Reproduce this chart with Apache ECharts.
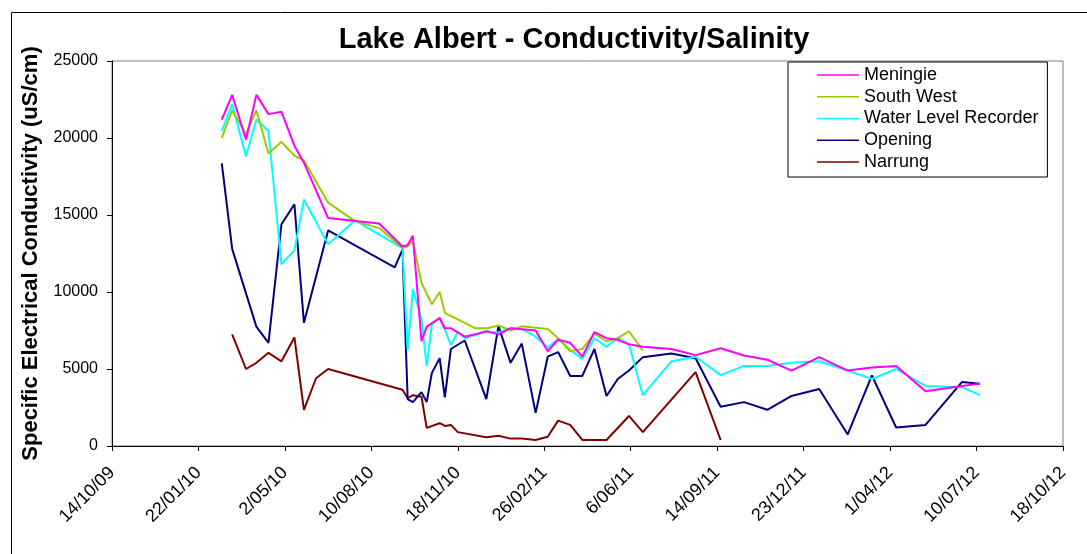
<!DOCTYPE html>
<html>
<head>
<meta charset="utf-8">
<script src="https://cdn.jsdelivr.net/npm/echarts@6/dist/echarts.min.js"></script>
<style>
html,body{margin:0;padding:0;background:#fff;}
#chart{width:1087px;height:554px;}
</style>
</head>
<body>
<div id="chart"></div>
<script>
// ---- data ----
const axisStart = '2009-10-14';
const axisDays = 1100;
const tickDays = 100;

const seriesNames = ['Meningie', 'South West', 'Water Level Recorder', 'Opening', 'Narrung'];
const seriesColors = ['#FF00FF', '#99CC00', '#00FFFF', '#000080', '#800000'];

const meningieDates = ['2010-02-18','2010-03-02','2010-03-18','2010-03-30','2010-04-13','2010-04-28','2010-05-13','2010-05-24','2010-06-21','2010-08-19','2010-09-15','2010-09-21','2010-09-27','2010-10-07','2010-10-13','2010-10-28','2010-11-03','2010-11-10','2010-11-26','2010-12-08','2010-12-21','2011-01-04','2011-01-18','2011-02-16','2011-03-02','2011-03-14','2011-03-28','2011-04-11','2011-04-25','2011-05-09','2011-05-22','2011-06-04','2011-06-20','2011-07-23','2011-08-20','2011-09-18','2011-10-15','2011-11-11','2011-12-09','2012-01-10','2012-02-12','2012-03-11','2012-04-08','2012-05-12','2012-06-23','2012-07-14'];
const meningieVals = [21200,22800,19900,22800,21550,21700,19500,18400,14800,14450,12950,13050,13650,6800,7750,8300,7650,7650,7100,7250,7450,7250,7650,7500,6150,6900,6700,5800,7400,7000,6900,6600,6450,6300,5900,6350,5880,5600,4900,5770,4900,5100,5200,3550,3900,4050];

const southWestDates = ['2010-02-18','2010-03-02','2010-03-18','2010-03-30','2010-04-13','2010-04-28','2010-05-13','2010-05-24','2010-06-21','2010-07-22','2010-08-19','2010-09-15','2010-09-21','2010-09-27','2010-10-07','2010-10-19','2010-10-28','2010-11-03','2010-11-15','2010-12-08','2010-12-22','2011-01-04','2011-01-18','2011-01-31','2011-03-02','2011-03-14','2011-03-28','2011-04-11','2011-04-25','2011-05-09','2011-05-22','2011-06-04','2011-06-20'];
const southWestVals = [20000,21800,20250,21800,19000,19750,18850,18550,15800,14600,14150,12850,12950,13300,10600,9200,10000,8650,8300,7650,7650,7830,7500,7770,7600,7000,6150,6300,7300,6800,7000,7450,6200];

const wlrDates = ['2010-02-18','2010-03-02','2010-03-18','2010-03-30','2010-04-13','2010-04-28','2010-05-13','2010-05-24','2010-06-21','2010-07-22','2010-09-15','2010-09-21','2010-09-27','2010-10-07','2010-10-13','2010-10-19','2010-10-28','2010-11-03','2010-11-10','2010-11-18','2010-11-26','2010-12-22','2011-01-04','2011-01-18','2011-01-31','2011-02-16','2011-03-02','2011-03-14','2011-03-28','2011-04-11','2011-04-25','2011-05-09','2011-05-22','2011-06-04','2011-06-20','2011-07-23','2011-08-20','2011-09-18','2011-10-15','2011-11-11','2011-12-09','2012-01-10','2012-02-12','2012-03-11','2012-04-08','2012-05-12','2012-06-23','2012-07-14'];
const wlrVals = [20450,22200,18800,21200,20450,11800,12700,16000,13100,14650,12850,6200,10200,8250,5200,7900,8350,7550,6550,7400,7000,7450,7350,7650,7600,7100,6400,6950,6250,5650,7000,6450,7000,6600,3300,5500,5800,4600,5200,5200,5400,5500,4900,4350,5000,3900,3820,3300];

const openingDates = ['2010-02-18','2010-03-02','2010-03-30','2010-04-13','2010-04-28','2010-05-13','2010-05-24','2010-06-21','2010-09-06','2010-09-15','2010-09-21','2010-09-27','2010-10-07','2010-10-13','2010-10-19','2010-10-28','2010-11-03','2010-11-10','2010-11-26','2010-12-21','2011-01-04','2011-01-18','2011-01-31','2011-02-16','2011-03-02','2011-03-14','2011-03-28','2011-04-11','2011-04-25','2011-05-09','2011-05-22','2011-06-04','2011-06-20','2011-07-23','2011-08-20','2011-09-18','2011-10-15','2011-11-11','2011-12-09','2012-01-10','2012-02-12','2012-03-11','2012-04-08','2012-05-12','2012-06-23','2012-07-14'];
const openingVals = [18350,12800,7750,6700,14400,15700,8000,14000,11600,12750,3050,2850,3500,2850,4750,5700,3150,6300,6850,3050,7800,5400,6650,2150,5800,6100,4550,4550,6300,3250,4350,4900,5770,6000,5700,2550,2850,2350,3250,3700,750,4580,1200,1370,4150,4050];

const narrungDates = ['2010-03-02','2010-03-18','2010-03-30','2010-04-13','2010-04-28','2010-05-13','2010-05-24','2010-06-07','2010-06-21','2010-09-15','2010-09-21','2010-09-27','2010-10-07','2010-10-13','2010-10-28','2010-11-03','2010-11-10','2010-11-18','2010-12-21','2011-01-04','2011-01-18','2011-01-31','2011-02-16','2011-03-02','2011-03-14','2011-03-28','2011-04-11','2011-05-09','2011-06-04','2011-06-20','2011-08-20','2011-09-18'];
const narrungVals = [7250,5000,5400,6050,5500,7050,2350,4400,5000,3650,3100,3300,3200,1180,1480,1300,1370,900,570,670,480,480,390,600,1650,1370,390,390,1950,900,4800,390];

const yMin = 0, yMax = 25000, yInterval = 5000;

// ---- build ----
const DAY = 86400000;
const baseMs = Date.parse(axisStart + 'T00:00:00Z');
function toDay(s) { return (Date.parse(s + 'T00:00:00Z') - baseMs) / DAY; }
function pairs(dates, vals) { return dates.map((d, i) => [toDay(d), vals[i]]); }
function fmtDate(v) {
  const d = new Date(baseMs + Math.round(v) * DAY);
  const dd = d.getUTCDate();
  const mm = String(d.getUTCMonth() + 1).padStart(2, '0');
  const yy = String(d.getUTCFullYear() % 100).padStart(2, '0');
  return dd + '/' + mm + '/' + yy;
}
const allData = [
  pairs(meningieDates, meningieVals),
  pairs(southWestDates, southWestVals),
  pairs(wlrDates, wlrVals),
  pairs(openingDates, openingVals),
  pairs(narrungDates, narrungVals)
];

const FONT = '"Liberation Sans", Arial, sans-serif';
const chart = echarts.init(document.getElementById('chart'), null, { renderer: 'canvas' });
chart.setOption({
  animation: false,
  backgroundColor: '#fff',
  textStyle: { fontFamily: FONT },
  title: {
    text: 'Lake Albert - Conductivity/Salinity',
    left: 569, top: 20, textAlign: 'center',
    textStyle: { fontFamily: FONT, fontSize: 29, fontWeight: 'bold', color: '#000' }
  },
  graphic: [{
    type: 'rect', left: 9, top: 10, z: -1,
    shape: { x: 0, y: 0, width: 1100, height: 600 },
    style: { fill: 'none', stroke: '#000', lineWidth: 1 }
  }],
  legend: {
    orient: 'vertical',
    left: 788, top: 62,
    data: seriesNames,
    icon: 'rect',
    backgroundColor: '#fff',
    borderColor: '#000', borderWidth: 1,
    padding: [4, 9, 6, 29],
    itemWidth: 42, itemHeight: 1.5, itemGap: 3.75,
    textStyle: { fontFamily: FONT, fontSize: 18, lineHeight: 18, color: '#000' },
    z: 10
  },
  grid: {
    left: 112, right: 24, top: 61, bottom: 108,
    show: true, borderColor: '#808080', borderWidth: 1, backgroundColor: '#fff'
  },
  xAxis: {
    type: 'value',
    min: 0, max: axisDays, interval: tickDays,
    axisLine: { show: true, onZero: false, lineStyle: { color: '#000', width: 1 } },
    axisTick: { show: true, length: 5, lineStyle: { color: '#000' } },
    splitLine: { show: false },
    axisLabel: {
      rotate: 45, margin: 24, fontFamily: FONT, fontSize: 18, color: '#000',
      formatter: fmtDate
    }
  },
  yAxis: {
    type: 'value',
    min: yMin, max: yMax, interval: yInterval,
    name: 'Specific Electrical Conductivity (uS/cm)',
    nameLocation: 'middle', nameGap: 70, nameRotate: 90,
    nameTextStyle: { fontFamily: FONT, fontSize: 22, fontWeight: 'bold', color: '#000' },
    axisLine: { show: true, lineStyle: { color: '#000', width: 1 } },
    axisTick: { show: true, length: 5, lineStyle: { color: '#000' } },
    splitLine: { show: false },
    axisLabel: { margin: 14, fontFamily: FONT, fontSize: 16, color: '#000', formatter: v => String(v) }
  },
  series: seriesNames.map((n, i) => ({
    name: n,
    type: 'line',
    data: allData[i],
    symbol: 'none',
    showSymbol: false,
    color: seriesColors[i],
    lineStyle: { width: 2, color: seriesColors[i] },
    z: 2 + (seriesNames.length - i)
  }))
});
</script>
</body>
</html>
